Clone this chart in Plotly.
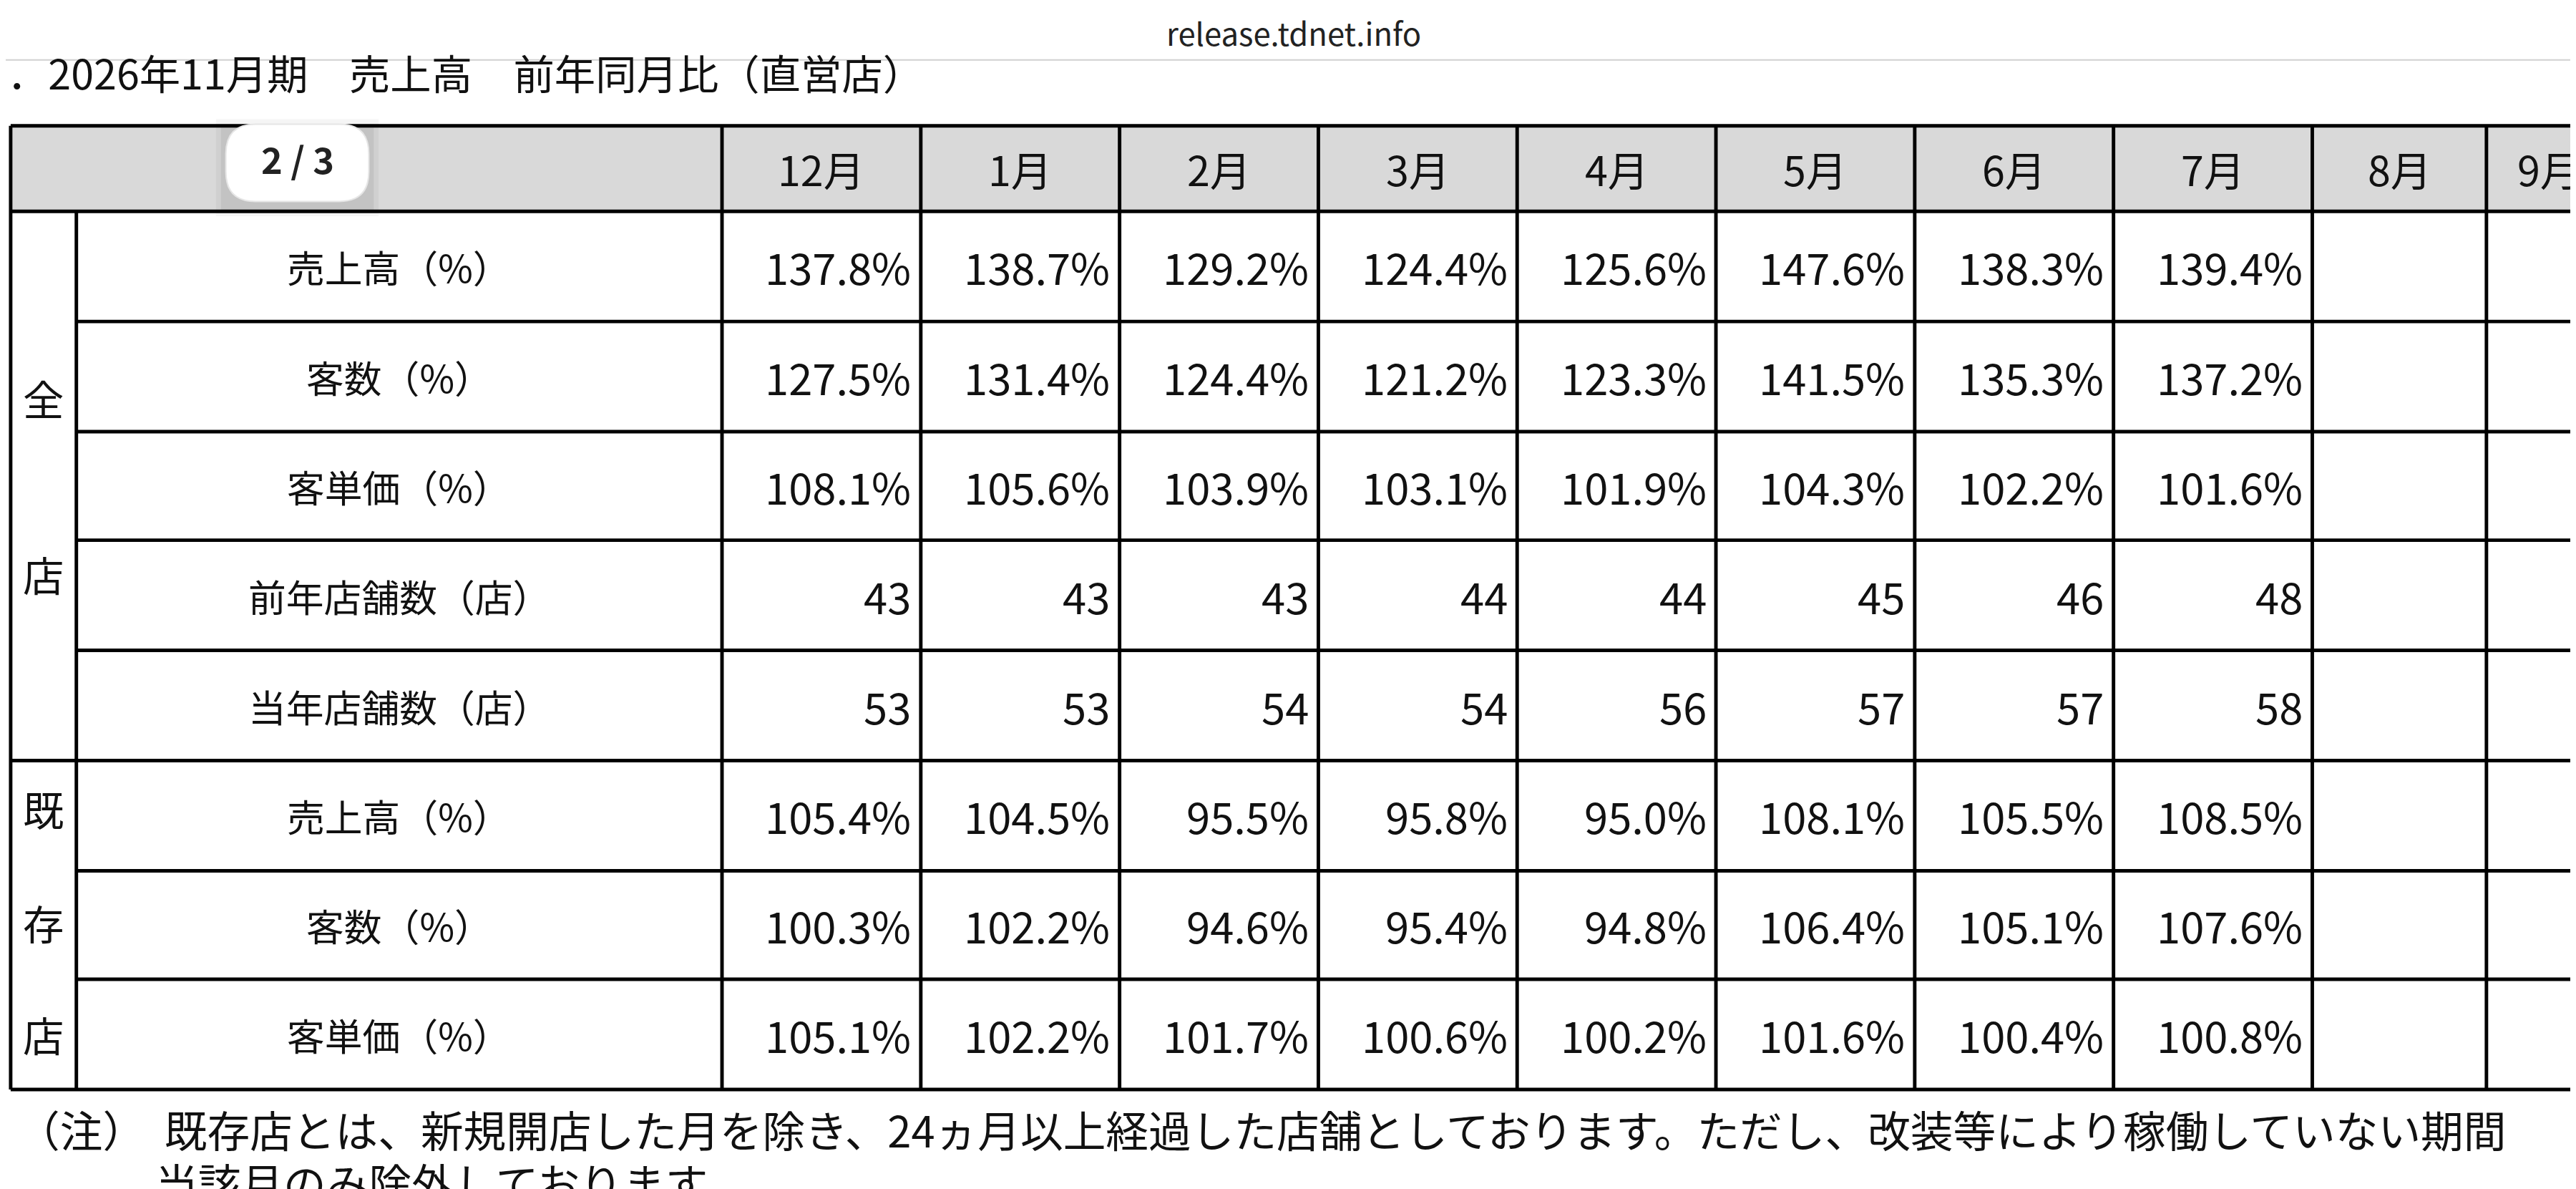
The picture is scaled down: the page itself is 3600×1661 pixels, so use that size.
import plotly.graph_objects as go

months = ["12月","1月","2月","3月","4月","5月","6月","7月","8月","9月"]
row_labels = ["売上高（%）","客数（%）","客単価（%）","前年店舗数（店）","当年店舗数（店）",
              "売上高（%）","客数（%）","客単価（%）"]
all_sales = ["137.8%","138.7%","129.2%","124.4%","125.6%","147.6%","138.3%","139.4%"]
all_cust = ["127.5%","131.4%","124.4%","121.2%","123.3%","141.5%","135.3%","137.2%"]
all_price = ["108.1%","105.6%","103.9%","103.1%","101.9%","104.3%","102.2%","101.6%"]
prev_stores = ["43","43","43","44","44","45","46","48"]
cur_stores = ["53","53","54","54","56","57","57","58"]
ex_sales = ["105.4%","104.5%","95.5%","95.8%","95.0%","108.1%","105.5%","108.5%"]
ex_cust = ["100.3%","102.2%","94.6%","95.4%","94.8%","106.4%","105.1%","107.6%"]
ex_price = ["105.1%","102.2%","101.7%","100.6%","100.2%","101.6%","100.4%","100.8%"]
rows = [all_sales, all_cust, all_price, prev_stores, cur_stores, ex_sales, ex_cust, ex_price]

W, H = 1568, 723
S = 3600 / W
FONT = "Noto Sans CJK JP"
col_x = [436, 557, 678, 799, 920, 1041, 1162, 1283, 1404, 1510, 1631]
row_y = [73, 125, 192, 259, 325, 392, 459, 526, 592, 659]
L0, L1 = 3, 43

fig = go.Figure()
shapes, ann = [], []
lw = 3 * S / 1.4

def line(x0, y0, x1, y1, w=lw, c="black"):
    shapes.append(dict(type="line", x0=x0, y0=y0, x1=x1, y1=y1, line=dict(color=c, width=w)))

def text(x, y, t, size=25, anchor="center", color="#111"):
    ann.append(dict(x=x, y=y, text=t, showarrow=False, xanchor=anchor, yanchor="middle",
                    font=dict(family=FONT, size=size * S, color=color)))

shapes.append(dict(type="rect", x0=L0, y0=row_y[0], x1=W + 5, y1=row_y[1], fillcolor="#d9d9d9", line=dict(width=0)))
for i, y in enumerate(row_y):
    x0 = L0 if i in (0, 1, 6, 9) else L1
    line(x0, y, W + 5, y)
line(L0, row_y[0], L0, row_y[-1])
line(L1, row_y[1], L1, row_y[-1])
for x in col_x:
    line(x, row_y[0], x, row_y[-1])

for i, m in enumerate(months):
    if i == len(months) - 1:
        text(col_x[i] + 18, (row_y[0] + row_y[1]) / 2, m, anchor="left")
    else:
        text((col_x[i] + col_x[i + 1]) / 2, (row_y[0] + row_y[1]) / 2, m)
for r, (lab, vals) in enumerate(zip(row_labels, rows)):
    yc = (row_y[r + 1] + row_y[r + 2]) / 2
    text((L1 + col_x[0]) / 2, yc, lab, size=23)
    for i, v in enumerate(vals):
        text(col_x[i + 1] - 5, yc, v, size=26, anchor="right")
for t, y in [("全", 238), ("店", 345), ("既", 488), ("存", 557), ("店", 625)]:
    text((L0 + L1) / 2, y, t, size=25)

text(0, 40, "．2026年11月期　売上高　前年同月比（直営店）", size=25, anchor="left")
shapes.append(dict(type="rect", x0=0, y0=0, x1=W, y1=33, fillcolor="white", line=dict(width=0)))
line(0, 33, W, 33, w=2, c="#d0d0d0")
text(W / 2, 16, "release.tdnet.info", size=19, color="#222")

# page pill with soft shadow
for k, col in [(6, "rgba(0,0,0,0.04)"), (3, "rgba(0,0,0,0.06)")]:
    shapes.append(dict(type="rect", x0=134 - k, y0=72 - k + 3, x1=221 + k, y1=119 + k + 3,
                       fillcolor=col, line=dict(width=0)))
r = 18
x0, x1, y0, y1 = 134, 221, 72, 119
path = (f"M{x0+r},{y0} L{x1-r},{y0} Q{x1},{y0} {x1},{y0+r} L{x1},{y1-r} Q{x1},{y1} {x1-r},{y1} "
        f"L{x0+r},{y1} Q{x0},{y1} {x0},{y1-r} L{x0},{y0+r} Q{x0},{y0} {x0+r},{y0} Z")
shapes.append(dict(type="path", path=path, fillcolor="white", line=dict(color="#e6e6e6", width=2)))
text((x0 + x1) / 2, (y0 + y1) / 2 - 3, "<b>2 / 3</b>", size=22, color="#222")

text(6, 683, "（注）  既存店とは、新規開店した月を除き、24ヵ月以上経過した店舗としております。ただし、改装等により稼働していない期間",
     size=26, anchor="left")
text(90, 715, "当該月のみ除外しております。", size=26, anchor="left")

fig.update_layout(width=3600, height=1661, margin=dict(l=0, r=0, t=0, b=0),
                  paper_bgcolor="white", plot_bgcolor="white", shapes=shapes, annotations=ann,
                  xaxis=dict(range=[0, W], visible=False, fixedrange=True),
                  yaxis=dict(range=[H, 0], visible=False, fixedrange=True), showlegend=False)
fig.write_html("out.html")
